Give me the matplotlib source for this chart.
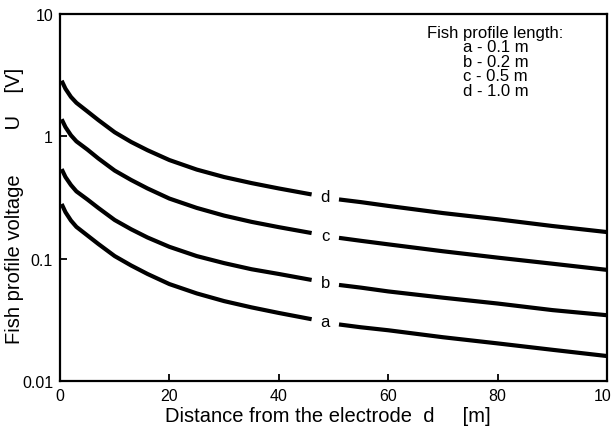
import matplotlib
matplotlib.use("Agg")
import matplotlib.pyplot as plt
import numpy as np

plt.rcParams["font.family"] = ["Liberation Sans", "DejaVu Sans"]

# distance from the electrode [m]; gap in each curve where the letter sits
x_left = [0.3, 1, 2, 3, 5, 7, 10, 13, 16, 20, 25, 30, 35, 40, 46]
x_right = [51, 55, 60, 70, 80, 90, 100]

# fish profile voltage U [V]
u_d_left = [2.85, 2.45, 2.1, 1.88, 1.6, 1.36, 1.08, 0.90, 0.77, 0.64, 0.535, 0.465, 0.415, 0.375, 0.335]
u_d_right = [0.305, 0.29, 0.27, 0.236, 0.21, 0.185, 0.165]
u_c_left = [1.38, 1.19, 1.02, 0.91, 0.78, 0.66, 0.525, 0.44, 0.375, 0.31, 0.26, 0.225, 0.20, 0.181, 0.162]
u_c_right = [0.148, 0.14, 0.131, 0.115, 0.102, 0.091, 0.081]
u_b_left = [0.54, 0.465, 0.40, 0.355, 0.305, 0.26, 0.207, 0.174, 0.149, 0.125, 0.105, 0.092, 0.082, 0.075, 0.067]
u_b_right = [0.061, 0.058, 0.054, 0.048, 0.043, 0.038, 0.0345]
u_a_left = [0.28, 0.24, 0.205, 0.182, 0.155, 0.132, 0.105, 0.088, 0.075, 0.062, 0.052, 0.045, 0.040, 0.036, 0.032]
u_a_right = [0.029, 0.0275, 0.026, 0.0228, 0.0203, 0.018, 0.016]

curvas = [("a", u_a_left, u_a_right), ("b", u_b_left, u_b_right),
          ("c", u_c_left, u_c_right), ("d", u_d_left, u_d_right)]

legenda_titulo = "Fish profile length:"
legenda_linhas = ["a - 0.1 m", "b - 0.2 m", "c - 0.5 m", "d - 1.0 m"]

fig = plt.figure(figsize=(6.11, 4.39), dpi=100)
ax = fig.add_axes([0.0982, 0.1298, 0.8953, 0.836])

for nome, esq, dir_ in curvas:
    ax.plot(x_left, esq, color="black", lw=3, solid_capstyle="butt")
    ax.plot(x_right, dir_, color="black", lw=3, solid_capstyle="butt")
    xm = (x_left[-1] + x_right[0]) / 2
    ym = np.sqrt(esq[-1] * dir_[0])
    ax.text(xm, ym, nome, ha="center", va="center", fontsize=12)

ax.set_yscale("log")
ax.set_xlim(0, 100)
ax.set_ylim(0.01, 10)
ax.set_xticks([0, 20, 40, 60, 80, 100])
ax.set_yticks([0.01, 0.1, 1, 10])
ax.set_yticklabels(["0.01", "0.1", "1", "10"])
ax.yaxis.set_minor_locator(matplotlib.ticker.NullLocator())
ax.tick_params(direction="in", length=5, width=1.3, labelsize=11.5, pad=5)
for s in ax.spines.values():
    s.set_linewidth(1.6)

ax.set_xlabel("Distance from the electrode  d     [m]", fontsize=14.5)
ax.xaxis.set_label_coords(0.49, -0.068)
ax.set_ylabel("Fish profile voltage        U    [V]", fontsize=14.5)
ax.yaxis.set_label_coords(-0.066, 0.48)

texto = "\n".join([legenda_titulo] + legenda_linhas)
ax.text(0.796, 0.970, texto, transform=ax.transAxes, ha="center", va="top",
        multialignment="center", fontsize=12, linespacing=0.95)

fig.savefig("out.png", dpi=100)
